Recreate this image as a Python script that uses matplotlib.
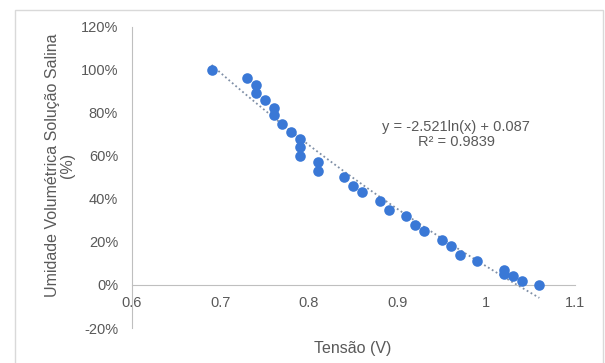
import numpy as np
import matplotlib
matplotlib.use("Agg")
import matplotlib.pyplot as plt
from matplotlib.patches import Rectangle
from matplotlib.ticker import FuncFormatter

plt.rcParams['font.family'] = ['Liberation Sans', 'DejaVu Sans']

# readings: voltage (V) vs volumetric moisture (fraction)
tensao = [0.69, 0.73, 0.74, 0.74, 0.75, 0.76, 0.76, 0.77, 0.78, 0.79, 0.79, 0.79,
          0.81, 0.81, 0.84, 0.85, 0.86, 0.88, 0.89, 0.91, 0.92, 0.93, 0.95, 0.96,
          0.97, 0.99, 1.02, 1.02, 1.03, 1.04, 1.06]
umidade = [1.00, 0.96, 0.93, 0.89, 0.86, 0.82, 0.79, 0.75, 0.71, 0.68, 0.64, 0.60,
           0.57, 0.53, 0.50, 0.46, 0.43, 0.39, 0.35, 0.32, 0.28, 0.25, 0.21, 0.18,
           0.14, 0.11, 0.07, 0.05, 0.04, 0.02, 0.00]

# log trendline coefficients (from the chart label)
coef_a = -2.521
coef_b = 0.087
r2 = 0.9839

x_ticks = [0.6, 0.7, 0.8, 0.9, 1.0, 1.1]
x_labels = ['0.6', '0.7', '0.8', '0.9', '1', '1.1']
y_ticks = [-0.2, 0.0, 0.2, 0.4, 0.6, 0.8, 1.0, 1.2]

gray = '#595959'
blue = '#3a78d6'

fig = plt.figure(figsize=(6.05, 3.63), dpi=100)
fig.patches.append(Rectangle((15 / 605, -0.1), 588 / 605, 1.1 - 10 / 363,
                             transform=fig.transFigure, fill=False,
                             edgecolor='#d9d9d9', linewidth=1.0))
ax = fig.add_axes([0.218, 0.0964, 0.732, 0.83])

ax.scatter(tensao, umidade, s=58, color=blue, zorder=3, linewidths=0)

xt = np.linspace(min(tensao), max(tensao), 100)
ax.plot(xt, coef_a * np.log(xt) + coef_b, color='#7f8fa6', linestyle=(0, (1, 1.5)),
        linewidth=1.3, zorder=2)

ax.set_xlim(0.6, 1.1)
ax.set_ylim(-0.2, 1.2)
ax.set_xticks(x_ticks)
ax.set_xticklabels(x_labels)
ax.set_yticks(y_ticks)
ax.yaxis.set_major_formatter(FuncFormatter(lambda v, p: f"{v * 100:.0f}%"))

for s in ['top', 'right']:
    ax.spines[s].set_visible(False)
ax.spines['bottom'].set_position(('data', 0))
ax.spines['left'].set_color('#bfbfbf')
ax.spines['bottom'].set_color('#bfbfbf')
ax.tick_params(axis='both', length=0, colors=gray, labelsize=10.5)
ax.tick_params(axis='x', pad=8)
ax.tick_params(axis='y', pad=10)

ax.text(0.966, 0.70, f"y = {coef_a}ln(x) + {coef_b}\nR\u00b2 = {r2}", ha='center', va='center',
        fontsize=10.5, color=gray, linespacing=1.05)

fig.text(0.583, 0.041, 'Tensão (V)', ha='center', va='center', fontsize=11.5, color=gray)
fig.text(0.1, 0.545, 'Umidade Volumétrica Solução Salina\n(%)', ha='center', va='center',
         rotation=90, fontsize=11.5, color=gray, linespacing=1.0)

fig.savefig('out.png', dpi=100)
